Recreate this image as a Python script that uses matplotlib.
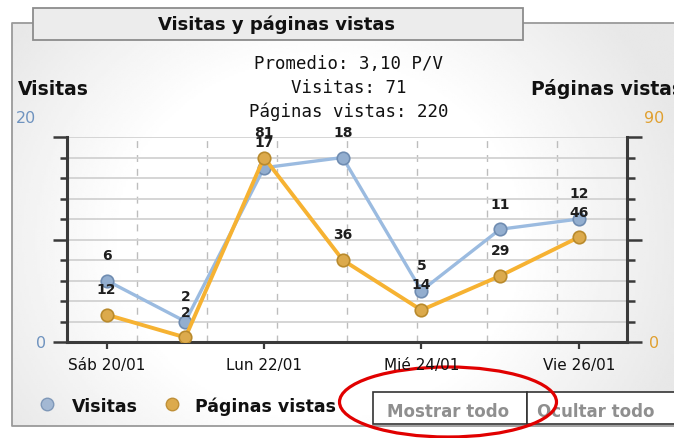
import numpy as np
import matplotlib.pyplot as plt
from matplotlib.patches import Rectangle, Ellipse
from matplotlib.ticker import FixedLocator, MultipleLocator

# datos del reporte
fechas = ["Sáb 20/01", "Dom 21/01", "Lun 22/01", "Mar 23/01",
          "Mié 24/01", "Jue 25/01", "Vie 26/01"]
visitas = [6, 2, 17, 18, 5, 11, 12]
paginas = [12, 2, 81, 36, 14, 29, 46]
resumen = ["Promedio: 3,10 P/V", "Visitas: 71", "Páginas vistas: 220"]

W, H = 674, 439
AZUL = '#9bbbe0'
NARANJA = '#f6b232'
EJE = '#3a3a3a'

fig = plt.figure(figsize=(W / 100, H / 100), dpi=100)

# capa de fondo en coordenadas de pixel
bg = fig.add_axes([0, 0, 1, 1])
bg.set_xlim(0, W)
bg.set_ylim(H, 0)
bg.axis('off')

xs = np.linspace(12, W, 300)
ys = np.linspace(24, 427, 200)
X, Y = np.meshgrid(xs, ys)
r = np.sqrt(((X - 320) / 360) ** 2 + ((Y - 240) / 320) ** 2)
grad = 1 - 0.09 * np.clip((r - 0.55) / 0.5, 0, 1)
bg.imshow(grad, cmap='gray', vmin=0, vmax=1, extent=(12, W, 427, 24),
          aspect='auto', zorder=0)

# marco
bg.plot([W, 12, 12, W], [24, 24, 427, 427], color='#9a9a9a', lw=1.3, zorder=1)
bg.add_patch(Rectangle((33, 9), 490, 32, fc='#ececec', ec='#8c8c8c', lw=1.3, zorder=2))
bg.text(277, 30, "Visitas y páginas vistas", fontsize=13, fontweight='bold',
        ha='center', va='baseline', color='#111111', zorder=3)

for linea, yb in zip(resumen, [69, 93, 117]):
    bg.text(349, yb, linea, family='DejaVu Sans Mono', fontsize=12.5,
            ha='center', va='baseline', color='#111111')

bg.text(18, 95, "Visitas", fontsize=13.5, fontweight='bold', va='baseline', color='#111111')
bg.text(531, 95, "Páginas vistas", fontsize=13.5, fontweight='bold', va='baseline', color='#111111')

# ejes principales
ax = fig.add_axes([66.7 / W, 1 - 343 / H, (627.3 - 66.7) / W, (343 - 138) / H])
ax.patch.set_alpha(0)
x = np.arange(len(visitas))
ax.set_xlim(-0.508, 6.617)
ax.set_ylim(0, 20)

ax2 = ax.twinx()
ax2.set_ylim(0, 90)

ax.plot(x, visitas, color=AZUL, lw=2.4, marker='o', ms=9,
        mfc='#93aecf', mec='#6f8cb1', mew=1.2, zorder=3)
ax2.plot(x, paginas, color=NARANJA, lw=2.8, marker='o', ms=9,
         mfc='#dcaa4c', mec='#b98a2c', mew=1.2, zorder=3)

# rejilla
ax.yaxis.set_major_locator(FixedLocator([0, 10, 20]))
ax.yaxis.set_minor_locator(MultipleLocator(2))
ax.grid(axis='y', which='both', color='#d2d2d2', lw=1.3)
x0, x1 = ax.get_xlim()
ax.xaxis.set_minor_locator(FixedLocator([x0 + (x1 - x0) * k / 8 for k in range(1, 8)]))
ax.grid(axis='x', which='minor', color='#bdbdbd', lw=1, ls=(0, (5, 5)))

ax.set_xticks(x[::2])
ax.set_xticklabels(fechas[::2])
ax.tick_params(axis='x', which='major', direction='out', length=5, width=1.6,
               color=EJE, pad=6, labelsize=11, labelcolor='#111111')
ax.tick_params(axis='x', which='minor', length=0)
ax.tick_params(axis='y', which='major', direction='out', length=10, width=1.8,
               color=EJE, labelleft=False)
ax.tick_params(axis='y', which='minor', direction='out', length=5, width=1.8, color=EJE)

ax2.yaxis.set_major_locator(FixedLocator([0, 45, 90]))
ax2.yaxis.set_minor_locator(MultipleLocator(9))
ax2.tick_params(axis='y', which='major', direction='out', length=11, width=1.8,
                color=EJE, labelright=False)
ax2.tick_params(axis='y', which='minor', direction='out', length=6, width=1.8, color=EJE)

for s in ['top', 'right']:
    ax.spines[s].set_visible(False)
for s in ['top', 'left', 'bottom']:
    ax2.spines[s].set_visible(False)
for sp in [ax.spines['left'], ax.spines['bottom'], ax2.spines['right']]:
    sp.set_linewidth(2.2)
    sp.set_color(EJE)

# etiquetas de valores
for i, v in enumerate(paginas):
    ax2.annotate(str(v), (i, v), xytext=(0, 18.5), textcoords='offset points',
                 ha='center', va='center', fontsize=10, fontweight='bold', color='#1e1e1e')
for i, v in enumerate(visitas):
    ax2.annotate(str(v), (i, v), xycoords=ax.transData, xytext=(0, 18.5),
                 textcoords='offset points', ha='center', va='center',
                 fontsize=10, fontweight='bold', color='#1e1e1e')

# limites de los ejes
bg.text(16, 123, f"{ax.get_ylim()[1]:.0f}", fontsize=11.5, color='#6f93bf', va='baseline')
bg.text(41, 348, f"{ax.get_ylim()[0]:.0f}", fontsize=11.5, color='#6f93bf', va='baseline', ha='center')
bg.text(654, 123, f"{ax2.get_ylim()[1]:.0f}", fontsize=11.5, color='#e0a030', va='baseline', ha='center')
bg.text(654, 348, f"{ax2.get_ylim()[0]:.0f}", fontsize=11.5, color='#e0a030', va='baseline', ha='center')

# leyenda
bg.plot(47, 405, 'o', ms=9, mfc='#a3b8d3', mec='#7f98b8', mew=1)
bg.plot(172, 405, 'o', ms=9, mfc='#dcaa4c', mec='#bf9038', mew=1)
bg.text(72, 412, "Visitas", fontsize=12.5, fontweight='bold', va='baseline', color='#111111')
bg.text(195, 412, "Páginas vistas", fontsize=12.5, fontweight='bold', va='baseline', color='#111111')

# botones
bg.add_patch(Rectangle((373, 393), 154, 32, fc='white', ec='#333333', lw=1.2, zorder=2))
bg.add_patch(Rectangle((527, 393), 160, 32, fc='white', ec='#333333', lw=1.2, zorder=2))
bg.text(448, 417, "Mostrar todo", fontsize=12, fontweight='bold', color='#8f8f8f',
        ha='center', va='baseline', zorder=3)
bg.text(537, 417, "Ocultar todo", fontsize=12, fontweight='bold', color='#8f8f8f',
        ha='left', va='baseline', zorder=3)
bg.add_patch(Ellipse((448, 403), 217, 70, fill=False, ec='#e10000', lw=2.3, zorder=4))

fig.savefig('out.png', dpi=100)
